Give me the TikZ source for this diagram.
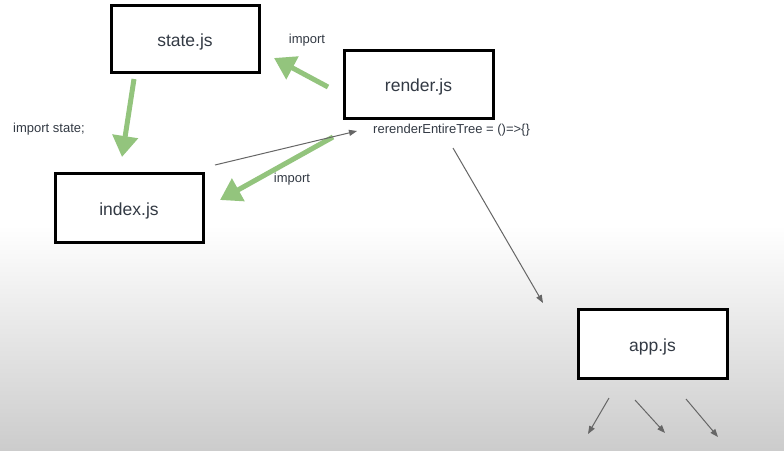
\documentclass[tikz,border=0pt]{standalone}
\usepackage{fontspec}
\setmainfont{Liberation Sans}
\usetikzlibrary{arrows.meta}
\definecolor{linkgreen}{HTML}{93C47D}
\definecolor{txt}{HTML}{333A44}
\definecolor{thin}{HTML}{666666}
\begin{document}
\begin{tikzpicture}[x=1pt,y=-1pt,
  filebox/.style={draw=black, line width=3pt, fill=white, inner sep=0pt,
    text=txt, font=\fontsize{17.5}{20}\selectfont,
    text height=16pt, text depth=0.6pt},
  note/.style={text=txt, inner sep=0pt, font=\fontsize{13}{15}\selectfont},
  greenarrow/.style={draw=linkgreen, line width=5pt,
    -{Triangle[length=21pt,width=25pt]}},
  thinarrow/.style={draw=thin, line width=1pt,
    -{Triangle[length=8pt,width=6pt]}}]
  % page and the grey fade at the bottom
  \useasboundingbox (0,0) rectangle (784,450);
  \fill[white] (0,0) rectangle (784,450);
  \shade[top color=white, bottom color=black!20] (0,225) rectangle (784,450);

  % files
  \node[filebox, minimum width=148pt, minimum height=67pt] (state) at (185,39) {state.js};
  \node[filebox, minimum width=149pt, minimum height=68pt] (render) at (418.5,84) {render.js};
  \node[filebox, minimum width=148pt, minimum height=69pt] (index) at (129,207.5) {index.js};
  \node[filebox, minimum width=149pt, minimum height=69pt] (app) at (652.5,343.5) {app.js};

  % labels
  \node[note] (l1) at (307,40) {import};
  \node[note] (l2) at (49,129) {import state;};
  \node[note] (l3) at (292,179) {import};
  \node[note, anchor=west] (fn) at (373,130) {rerenderEntireTree = ()=>\{\}};

  % free ends of the thin arrows
  \coordinate (cbStart) at (215,165);
  \coordinate (cbEnd) at (357,131);
  \coordinate (appIn) at (543,303);
  \coordinate (a1s) at (609,398); \coordinate (a1e) at (588,434);
  \coordinate (a2s) at (635,400); \coordinate (a2e) at (665,433);
  \coordinate (a3s) at (686,399); \coordinate (a3e) at (718,437);

  % imports
  \draw[greenarrow] (134,79) -- (122,157);
  \draw[greenarrow] (328,87) -- (274,58);
  \draw[greenarrow] (333,137) -- (220,200);

  % callbacks and children
  \draw[thinarrow] (cbStart) -- (cbEnd);
  \draw[thinarrow] (453,148) -- (appIn);
  \draw[thinarrow] (a1s) -- (a1e);
  \draw[thinarrow] (a2s) -- (a2e);
  \draw[thinarrow] (a3s) -- (a3e);
\end{tikzpicture}
\end{document}
